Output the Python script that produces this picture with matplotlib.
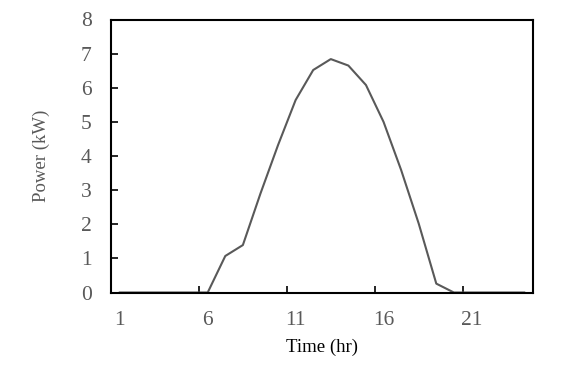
import matplotlib
matplotlib.use("Agg")
import matplotlib.pyplot as plt

hours = list(range(1, 25))
power = [0, 0, 0, 0, 0, 0, 1.07, 1.39, 2.90, 4.32, 5.64, 6.52, 6.84, 6.65,
         6.08, 5.00, 3.59, 2.02, 0.26, 0, 0, 0, 0, 0]
xtick_labels = ["1", "6", "11", "16", "21"]
xtick_pos = [1, 6, 11, 16, 21]

plt.rcParams['font.family'] = ['Liberation Serif']
gray = '#595959'

fig = plt.figure(figsize=(5.78, 3.70), dpi=100)
ax = fig.add_axes([111/578, 1-292.5/370, (533-111)/578, (292.5-19.5)/370])
ax.plot(hours, power, color=gray, lw=1.5, solid_joinstyle='round')
ax.set_xlim(0.5, 24.5)
ax.set_ylim(0, 8)
ax.set_yticks(range(0, 9))
ax.set_xticks(xtick_pos)
ax.set_xticklabels(xtick_labels)
ax.set_xticks([5.5, 10.5, 15.5, 20.5], minor=True)
ax.tick_params(axis='x', which='major', length=0, pad=13, labelsize=15.5, labelcolor=gray)
ax.tick_params(axis='x', which='minor', direction='in', length=5, width=1.2, color='black')
ax.tick_params(axis='y', direction='in', length=5, width=1.2, pad=14, labelsize=15.5, labelcolor=gray)
for s in ax.spines.values():
    s.set_linewidth(1.5)
    s.set_color('black')
ax.set_xlabel('Time (hr)', fontsize=13.5, color='black')
ax.set_ylabel('Power (kW)', fontsize=13.5, color=gray)
ax.yaxis.set_label_coords(-0.145, 0.5)
ax.xaxis.set_label_coords(0.5, -0.17)
fig.savefig('out.png', dpi=100)
